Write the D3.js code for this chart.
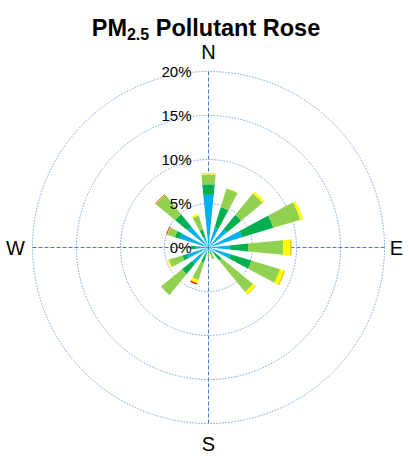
<!DOCTYPE html>
<html>
<head>
<meta charset="utf-8">
<script src="https://cdn.jsdelivr.net/npm/d3@7"></script>
<style>
  body { margin: 0; background: #fff; }
  svg { display: block; font-family: Arial, "Liberation Sans", sans-serif; }
</style>
</head>
<body>
<svg id="chart" width="409" height="456"></svg>
<script>
// wind directions, clockwise from north
const directions = ["N","NNE","NE","ENE","E","ESE","SE","SSE","S","SSW","SW","WSW","W","WNW","NW","NNW"];

// concentration bands (inner to outer)
const bands = ["Good", "Moderate", "USG", "Unhealthy", "Very Unhealthy", "Hazardous"];
const bandColors = ["#00b0f0", "#00b050", "#92d050", "#ffff00", "#ffc000", "#ff0000"];

// frequency (%) for each band, per direction
const good         = [6.0, 2.4, 2.7, 4.0, 2.4, 2.6, 0.9, 0.4, 0.3, 0.8, 2.4, 2.6, 1.4, 3.4, 3.1, 1.3];
const moderate     = [1.2, 2.4, 2.1, 3.7, 2.1, 2.5, 1.0, 0.4, 0.3, 1.0, 1.5, 0.5, 0.6, 0.6, 1.8, 0.85];
const usg          = [1.1, 2.2, 3.15, 3.2, 4.0, 3.4, 4.65, 0.6, 0.5, 2.05, 3.1, 1.6, 0, 0.85, 2.8, 1.65];
const unhealthy    = [0.2, 0.05, 0.3, 0.3, 0.8, 0.45, 0.3, 0, 0, 0.3, 0, 0.15, 0, 0, 0, 0.2];
const veryUnhealthy= [0, 0, 0, 0, 0.15, 0.15, 0.1, 0, 0, 0.15, 0, 0, 0, 0.1, 0.08, 0];
const hazardous    = [0, 0, 0, 0, 0, 0, 0, 0, 0, 0.1, 0, 0, 0, 0.08, 0.06, 0];

const ringTicks = [0, 5, 10, 15, 20];
const cardinals = ["N", "E", "S", "W"];

const series = [good, moderate, usg, unhealthy, veryUnhealthy, hazardous];
const rows = directions.map((d, i) => {
    const row = {dir: d};
    bands.forEach((b, j) => row[b] = series[j][i]);
    return row;
});

const svg = d3.select("#chart");
const cx = 208.5, cy = 247.5, R = 176;

// title
const title = svg.append("text")
    .attr("x", 206)
    .attr("y", 36)
    .attr("text-anchor", "middle")
    .style("font-weight", "bold")
    .style("font-size", "23.5px");
title.append("tspan").text("PM");
title.append("tspan").attr("dy", 4).style("font-size", "16px").text("2.5");
title.append("tspan").attr("dy", -4).text(" Pollutant Rose");

const g = svg.append("g").attr("transform", `translate(${cx},${cy})`);

const r = d3.scaleLinear().domain([0, 20]).range([0, R]);
const angle = d3.scalePoint()
    .domain(directions)
    .range([0, 2 * Math.PI * 15 / 16]);
const half = Math.PI / 32;

// rings
g.selectAll(".ring")
    .data(ringTicks.filter(t => t > 0))
    .join("circle")
    .attr("r", d => r(d))
    .attr("fill", "none")
    .attr("stroke", "#6f9fdc")
    .attr("stroke-width", 1)
    .attr("stroke-dasharray", "1.5,1.5");

// axes
g.append("line")
    .attr("x1", -R).attr("x2", R)
    .attr("stroke", "#4a7cc0").attr("stroke-dasharray", "4,2");
g.append("line")
    .attr("y1", -R).attr("y2", R)
    .attr("stroke", "#4a7cc0").attr("stroke-dasharray", "4,2");

// stacked wedges
const stack = d3.stack().keys(bands)(rows);
const arc = d3.arc()
    .innerRadius(d => r(d[0]))
    .outerRadius(d => r(d[1]))
    .startAngle(d => angle(d.data.dir) - half)
    .endAngle(d => angle(d.data.dir) + half);

g.selectAll(".band")
    .data(stack)
    .join("g")
    .attr("fill", (d, i) => bandColors[i])
    .selectAll("path")
    .data(d => d.filter(s => s[1] - s[0] > 0))
    .join("path")
    .attr("d", arc);

// ring labels
g.selectAll(".tick")
    .data(ringTicks)
    .join("text")
    .attr("x", -17)
    .attr("y", d => -r(d) + 5)
    .attr("text-anchor", "end")
    .style("font-size", "15px")
    .text(d => d + "%");

// cardinal labels
const cardPos = {N: [0, -R - 20], E: [R + 12, 0], S: [0, R + 20], W: [-R - 17, 0]};
g.selectAll(".card")
    .data(cardinals)
    .join("text")
    .attr("x", d => cardPos[d][0])
    .attr("y", d => cardPos[d][1] + 7)
    .attr("text-anchor", "middle")
    .style("font-size", "20px")
    .text(d => d);
</script>
</body>
</html>
